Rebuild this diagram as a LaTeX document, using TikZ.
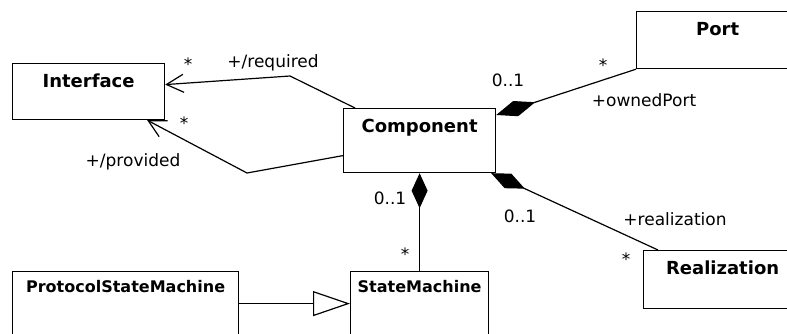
\documentclass[tikz,border=0pt]{standalone}
\usepackage{fontspec}
\setmainfont{DejaVu Sans}
\usetikzlibrary{arrows.meta}

\begin{document}
\begin{tikzpicture}[x=1pt, y=-1pt, line width=1.2pt,
    block/.style={draw, rectangle, inner sep=0pt, anchor=north west, text height=24pt,
        font=\fontsize{18}{20}\selectfont\bfseries},
    smblock/.style={block, text height=21pt, text depth=47pt, font=\fontsize{16}{18}\selectfont\bfseries},
    lbl/.style={anchor=base, inner sep=0pt, font=\fontsize{17}{20}\selectfont},
    assoc/.style={-{Straight Barb[length=17pt, width=18pt]}},
    compose/.style={{Diamond[length=#1, width=16pt]}-},
    inherit/.style={-{Triangle[open, length=37pt, width=25pt, fill=white]}}]

    \clip (0,0) rectangle (787,334);

    \node [block, minimum width=152pt, text depth=32pt] (iface) at (12,63) {Interface};
    \node [block, minimum width=162pt, text depth=33pt] (port) at (636,11) {Port};
    \node [block, minimum width=152pt, text depth=40pt] (comp) at (343,108) {Component};
    \node [smblock, minimum width=226pt] (psm) at (12,271) {ProtocolStateMachine};
    \node [smblock, minimum width=138pt] (sm) at (350,271) {StateMachine};
    \node [block, minimum width=158pt, text depth=34pt] (real) at (643,250) {Realization};

    \coordinate (reqbend) at (290,76);
    \coordinate (provbend) at (247,173);

    \draw [assoc] ([xshift=12pt]comp.north west) -- (reqbend) -- ([yshift=7pt]iface.east);
    \draw [assoc] ([yshift=-15pt]comp.west) -- (provbend) -- ([xshift=-18pt]iface.south east);
    \draw [compose=41pt] ([yshift=-7pt]comp.north east) -- (port.south west);
    \draw [compose=37pt] ([xshift=-5pt]comp.south east) -- ([xshift=15pt]real.north west);
    \draw [compose=35pt] (comp.south) -- (sm.north);
    \draw [inherit] ([yshift=2pt]psm.east) -- ([yshift=2pt]sm.west);

    \node [lbl] (reqmult) at (188,71) {*};
    \node [lbl] (reqrole) at (273,68) {+/required};
    \node [lbl] (provmult) at (184,130) {*};
    \node [lbl] (provrole) at (133,167) {+/provided};
    \node [lbl] (portcomp) at (508,87) {0..1};
    \node [lbl] (portmult) at (603,72) {*};
    \node [lbl] (portrole) at (644,107) {+ownedPort};
    \node [lbl] (smcomp) at (390,204) {0..1};
    \node [lbl] (smmult) at (405,260) {*};
    \node [lbl] (realcomp) at (520,222) {0..1};
    \node [lbl] (realrole) at (675,225) {+realization};
    \node [lbl] (realmult) at (626,265) {*};
\end{tikzpicture}
\end{document}
